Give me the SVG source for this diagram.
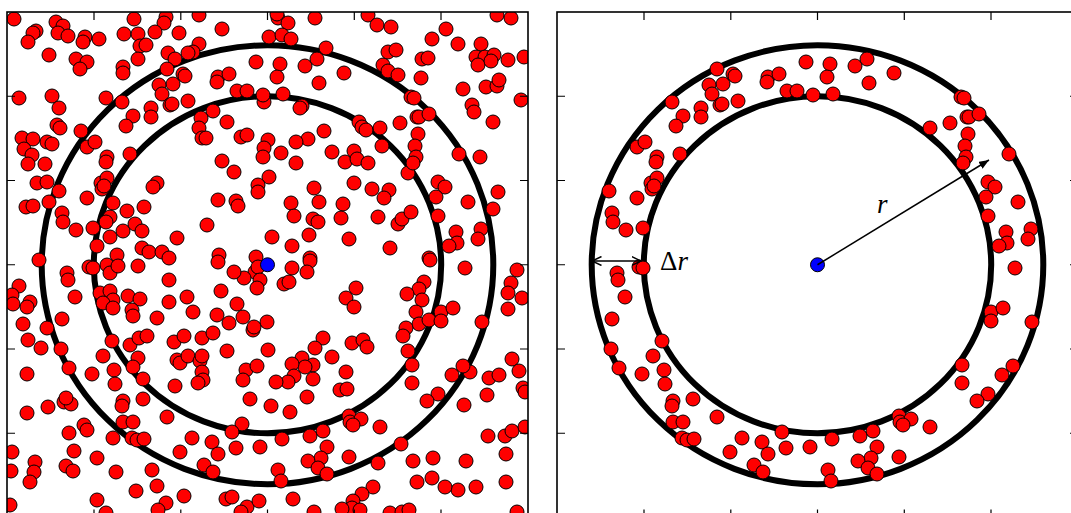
<svg xmlns="http://www.w3.org/2000/svg" xmlns:xlink="http://www.w3.org/1999/xlink" width="1071" height="513" viewBox="0 0 1071 513">
<style>
.bg{fill:#ffffff}
.frame{fill:none;stroke:#000;stroke-width:1.6}
.tick{fill:none;stroke:#000;stroke-width:1.2}
.ringline{fill:none;stroke:#000;stroke-width:6}
.pts circle{fill:#ff0000;stroke:#000;stroke-width:1}
.center{fill:#0000ff;stroke:#000;stroke-width:1}
.arr{fill:none;stroke:#000;stroke-width:1.5}
.lbl{font-family:"Liberation Serif","DejaVu Serif",serif;font-size:27px;fill:#000}
.it{font-style:italic}
</style>
<defs>
<clipPath id="clipL"><rect x="7" y="12" width="521" height="505.5"/></clipPath>
<clipPath id="clipR"><rect x="557" y="12" width="521" height="505.5"/></clipPath>
<marker id="head" viewBox="0 0 10 8" refX="10" refY="4" markerWidth="10" markerHeight="8" markerUnits="userSpaceOnUse" orient="auto">
<path d="M0,0 L10,4 L0,8 Z" fill="#000"/>
</marker>
<marker id="chev" viewBox="0 0 10 10" refX="9.5" refY="5" markerWidth="10" markerHeight="10" markerUnits="userSpaceOnUse" orient="auto-start-reverse">
<path d="M0,0.5 L9.5,5 L0,9.5" fill="none" stroke="#000" stroke-width="1.5"/>
</marker>
<g id="ringpts" class="pts">
<circle cx="256" cy="62" r="7"/><circle cx="218" cy="77" r="7"/><circle cx="217" cy="82" r="7"/><circle cx="229" cy="74" r="7"/><circle cx="237" cy="91" r="7"/><circle cx="247" cy="91" r="7"/><circle cx="263" cy="95" r="7"/><circle cx="167" cy="69" r="7"/><circle cx="183" cy="74" r="7"/><circle cx="185" cy="76" r="7"/><circle cx="173" cy="84" r="7"/><circle cx="159" cy="85" r="7"/><circle cx="162" cy="94" r="7"/><circle cx="170" cy="105" r="7"/><circle cx="172" cy="104" r="7"/><circle cx="188" cy="101" r="7"/><circle cx="151" cy="108" r="7"/><circle cx="151" cy="117" r="7"/><circle cx="133" cy="116" r="7"/><circle cx="126" cy="126" r="7"/><circle cx="122" cy="102" r="7"/><circle cx="87" cy="147" r="7"/><circle cx="95" cy="142" r="7"/><circle cx="107" cy="157" r="7"/><circle cx="106" cy="162" r="7"/><circle cx="130" cy="154" r="7"/><circle cx="101" cy="183" r="7"/><circle cx="107" cy="178" r="7"/><circle cx="102" cy="189" r="7"/><circle cx="104" cy="186" r="7"/><circle cx="59" cy="191" r="7"/><circle cx="87" cy="198" r="7"/><circle cx="62" cy="213" r="7"/><circle cx="63" cy="222" r="7"/><circle cx="76" cy="230" r="7"/><circle cx="93" cy="228" r="7"/>
<circle cx="280" cy="64" r="7"/><circle cx="277" cy="77" r="7"/><circle cx="305" cy="66" r="7"/><circle cx="317" cy="59" r="7"/><circle cx="319" cy="83" r="7"/><circle cx="344" cy="73" r="7"/><circle cx="283" cy="94" r="7"/><circle cx="411" cy="97" r="7"/><circle cx="414" cy="98" r="7"/><circle cx="417" cy="117" r="7"/><circle cx="419" cy="117" r="7"/><circle cx="429" cy="114" r="7"/><circle cx="400" cy="123" r="7"/><circle cx="380" cy="128" r="7"/><circle cx="418" cy="134" r="7"/><circle cx="415" cy="146" r="7"/><circle cx="416" cy="157" r="7"/><circle cx="413" cy="163" r="7"/><circle cx="459" cy="154" r="7"/><circle cx="438" cy="182" r="7"/><circle cx="445" cy="187" r="7"/><circle cx="436" cy="197" r="7"/><circle cx="468" cy="202" r="7"/><circle cx="438" cy="216" r="7"/><circle cx="456" cy="232" r="7"/><circle cx="457" cy="243" r="7"/><circle cx="449" cy="246" r="7"/><circle cx="481" cy="229" r="7"/><circle cx="478" cy="239" r="7"/>
<circle cx="67" cy="273" r="7"/><circle cx="68" cy="280" r="7"/><circle cx="89" cy="267" r="7"/><circle cx="93" cy="268" r="7"/><circle cx="75" cy="297" r="7"/><circle cx="62" cy="319" r="7"/><circle cx="112" cy="341" r="7"/><circle cx="61" cy="349" r="7"/><circle cx="69" cy="368" r="7"/><circle cx="103" cy="356" r="7"/><circle cx="114" cy="370" r="7"/><circle cx="92" cy="374" r="7"/><circle cx="115" cy="384" r="7"/><circle cx="123" cy="401" r="7"/><circle cx="122" cy="406" r="7"/><circle cx="143" cy="399" r="7"/><circle cx="167" cy="417" r="7"/><circle cx="123" cy="422" r="7"/><circle cx="133" cy="422" r="7"/><circle cx="132" cy="438" r="7"/><circle cx="137" cy="440" r="7"/><circle cx="144" cy="439" r="7"/><circle cx="192" cy="438" r="7"/><circle cx="180" cy="452" r="7"/><circle cx="212" cy="442" r="7"/><circle cx="218" cy="454" r="7"/><circle cx="232" cy="432" r="7"/><circle cx="236" cy="448" r="7"/><circle cx="260" cy="447" r="7"/><circle cx="204" cy="465" r="7"/><circle cx="213" cy="472" r="7"/>
<circle cx="465" cy="268" r="7"/><circle cx="441" cy="312" r="7"/><circle cx="453" cy="308" r="7"/><circle cx="441" cy="321" r="7"/><circle cx="482" cy="322" r="7"/><circle cx="412" cy="365" r="7"/><circle cx="412" cy="383" r="7"/><circle cx="463" cy="366" r="7"/><circle cx="452" cy="375" r="7"/><circle cx="438" cy="394" r="7"/><circle cx="427" cy="401" r="7"/><circle cx="349" cy="416" r="7"/><circle cx="350" cy="422" r="7"/><circle cx="361" cy="419" r="7"/><circle cx="353" cy="425" r="7"/><circle cx="380" cy="427" r="7"/><circle cx="323" cy="431" r="7"/><circle cx="310" cy="436" r="7"/><circle cx="282" cy="439" r="7"/><circle cx="327" cy="447" r="7"/><circle cx="321" cy="458" r="7"/><circle cx="308" cy="461" r="7"/><circle cx="318" cy="468" r="7"/><circle cx="327" cy="474" r="7"/><circle cx="349" cy="457" r="7"/><circle cx="278" cy="470" r="7"/><circle cx="281" cy="481" r="7"/>
</g>
</defs>
<rect class="bg" x="0" y="0" width="1071" height="513"/>

<g id="panel-left">
<g clip-path="url(#clipL)">
<g id="rings-left">
<ellipse class="ringline" cx="267.5" cy="264.75" rx="173.7" ry="168.5"/>
<ellipse class="ringline" cx="267.5" cy="264.75" rx="225.8" ry="219.5"/>
</g>
<g id="points-left" class="pts">
<circle cx="14" cy="19" r="7"/><circle cx="56" cy="22" r="7"/><circle cx="63" cy="26" r="7"/><circle cx="58" cy="33" r="7"/><circle cx="68" cy="36" r="7"/><circle cx="36" cy="31" r="7"/><circle cx="33" cy="33" r="7"/><circle cx="28" cy="42" r="7"/><circle cx="49" cy="55" r="7"/><circle cx="76" cy="59" r="7"/><circle cx="87" cy="62" r="7"/><circle cx="80" cy="69" r="7"/><circle cx="85" cy="37" r="7"/><circle cx="83" cy="42" r="7"/><circle cx="99" cy="39" r="7"/><circle cx="124" cy="34" r="7"/><circle cx="134" cy="19" r="7"/><circle cx="166" cy="17" r="7"/><circle cx="164" cy="23" r="7"/><circle cx="155" cy="32" r="7"/><circle cx="138" cy="34" r="7"/><circle cx="140" cy="46" r="7"/><circle cx="146" cy="45" r="7"/><circle cx="138" cy="59" r="7"/><circle cx="123" cy="67" r="7"/><circle cx="123" cy="73" r="7"/><circle cx="179" cy="33" r="7"/><circle cx="199" cy="15" r="7"/><circle cx="222" cy="29" r="7"/><circle cx="199" cy="44" r="7"/><circle cx="193" cy="52" r="7"/><circle cx="188" cy="53" r="7"/><circle cx="168" cy="53" r="7"/><circle cx="175" cy="59" r="7"/><circle cx="106" cy="98" r="7"/><circle cx="19" cy="98" r="7"/><circle cx="52" cy="96" r="7"/><circle cx="59" cy="108" r="7"/><circle cx="57" cy="125" r="7"/><circle cx="60" cy="128" r="7"/><circle cx="81" cy="131" r="7"/><circle cx="264" cy="102" r="7"/><circle cx="269" cy="37" r="7"/><circle cx="213" cy="111" r="7"/><circle cx="201" cy="118" r="7"/><circle cx="199" cy="128" r="7"/><circle cx="202" cy="138" r="7"/><circle cx="206" cy="138" r="7"/><circle cx="227" cy="122" r="7"/><circle cx="241" cy="137" r="7"/><circle cx="247" cy="135" r="7"/><circle cx="268" cy="140" r="7"/><circle cx="264" cy="148" r="7"/><circle cx="263" cy="157" r="7"/><circle cx="269" cy="177" r="7"/><circle cx="222" cy="161" r="7"/><circle cx="234" cy="172" r="7"/><circle cx="258" cy="185" r="7"/><circle cx="258" cy="192" r="7"/><circle cx="218" cy="200" r="7"/><circle cx="236" cy="201" r="7"/><circle cx="238" cy="206" r="7"/><circle cx="207" cy="225" r="7"/><circle cx="177" cy="238" r="7"/><circle cx="219" cy="255" r="7"/><circle cx="256" cy="257" r="7"/><circle cx="272" cy="237" r="7"/><circle cx="22" cy="138" r="7"/><circle cx="33" cy="139" r="7"/><circle cx="47" cy="142" r="7"/><circle cx="52" cy="144" r="7"/><circle cx="24" cy="149" r="7"/><circle cx="32" cy="155" r="7"/><circle cx="28" cy="164" r="7"/><circle cx="45" cy="164" r="7"/><circle cx="37" cy="183" r="7"/><circle cx="47" cy="182" r="7"/><circle cx="49" cy="202" r="7"/><circle cx="26" cy="207" r="7"/><circle cx="33" cy="206" r="7"/><circle cx="157" cy="183" r="7"/><circle cx="153" cy="187" r="7"/><circle cx="144" cy="207" r="7"/><circle cx="127" cy="211" r="7"/><circle cx="113" cy="203" r="7"/><circle cx="110" cy="217" r="7"/><circle cx="106" cy="222" r="7"/><circle cx="123" cy="231" r="7"/><circle cx="135" cy="224" r="7"/><circle cx="142" cy="231" r="7"/><circle cx="110" cy="237" r="7"/><circle cx="97" cy="246" r="7"/><circle cx="117" cy="255" r="7"/><circle cx="142" cy="248" r="7"/><circle cx="149" cy="252" r="7"/><circle cx="162" cy="252" r="7"/><circle cx="169" cy="258" r="7"/><circle cx="39" cy="260" r="7"/>
<circle cx="278" cy="18" r="7"/><circle cx="277" cy="14" r="7"/><circle cx="288" cy="23" r="7"/><circle cx="315" cy="18" r="7"/><circle cx="368" cy="15" r="7"/><circle cx="377" cy="25" r="7"/><circle cx="391" cy="27" r="7"/><circle cx="282" cy="35" r="7"/><circle cx="291" cy="39" r="7"/><circle cx="326" cy="48" r="7"/><circle cx="383" cy="65" r="7"/><circle cx="388" cy="52" r="7"/><circle cx="396" cy="50" r="7"/><circle cx="388" cy="71" r="7"/><circle cx="398" cy="75" r="7"/><circle cx="446" cy="29" r="7"/><circle cx="432" cy="39" r="7"/><circle cx="458" cy="44" r="7"/><circle cx="481" cy="44" r="7"/><circle cx="476" cy="57" r="7"/><circle cx="485" cy="57" r="7"/><circle cx="494" cy="55" r="7"/><circle cx="478" cy="65" r="7"/><circle cx="491" cy="61" r="7"/><circle cx="508" cy="60" r="7"/><circle cx="524" cy="57" r="7"/><circle cx="497" cy="15" r="7"/><circle cx="511" cy="18" r="7"/><circle cx="422" cy="59" r="7"/><circle cx="428" cy="58" r="7"/><circle cx="421" cy="78" r="7"/><circle cx="463" cy="89" r="7"/><circle cx="486" cy="87" r="7"/><circle cx="497" cy="86" r="7"/><circle cx="499" cy="80" r="7"/><circle cx="521" cy="100" r="7"/><circle cx="472" cy="105" r="7"/><circle cx="474" cy="112" r="7"/><circle cx="493" cy="122" r="7"/><circle cx="408" cy="173" r="7"/><circle cx="382" cy="146" r="7"/><circle cx="359" cy="122" r="7"/><circle cx="362" cy="127" r="7"/><circle cx="366" cy="130" r="7"/><circle cx="480" cy="157" r="7"/><circle cx="302" cy="106" r="7"/><circle cx="300" cy="108" r="7"/><circle cx="324" cy="131" r="7"/><circle cx="308" cy="139" r="7"/><circle cx="296" cy="142" r="7"/><circle cx="281" cy="153" r="7"/><circle cx="296" cy="163" r="7"/><circle cx="332" cy="152" r="7"/><circle cx="354" cy="151" r="7"/><circle cx="345" cy="162" r="7"/><circle cx="357" cy="159" r="7"/><circle cx="368" cy="163" r="7"/><circle cx="354" cy="183" r="7"/><circle cx="314" cy="188" r="7"/><circle cx="372" cy="189" r="7"/><circle cx="389" cy="190" r="7"/><circle cx="384" cy="198" r="7"/><circle cx="291" cy="203" r="7"/><circle cx="319" cy="202" r="7"/><circle cx="343" cy="204" r="7"/><circle cx="294" cy="216" r="7"/><circle cx="313" cy="219" r="7"/><circle cx="318" cy="222" r="7"/><circle cx="341" cy="218" r="7"/><circle cx="378" cy="217" r="7"/><circle cx="398" cy="224" r="7"/><circle cx="402" cy="219" r="7"/><circle cx="411" cy="212" r="7"/><circle cx="292" cy="246" r="7"/><circle cx="309" cy="235" r="7"/><circle cx="349" cy="239" r="7"/><circle cx="390" cy="248" r="7"/><circle cx="429" cy="258" r="7"/><circle cx="310" cy="258" r="7"/><circle cx="498" cy="192" r="7"/><circle cx="493" cy="209" r="7"/>
<circle cx="107" cy="265" r="7"/><circle cx="110" cy="273" r="7"/><circle cx="118" cy="266" r="7"/><circle cx="138" cy="266" r="7"/><circle cx="169" cy="280" r="7"/><circle cx="19" cy="286" r="7"/><circle cx="12" cy="295" r="7"/><circle cx="13" cy="304" r="7"/><circle cx="30" cy="302" r="7"/><circle cx="27" cy="307" r="7"/><circle cx="100" cy="293" r="7"/><circle cx="110" cy="291" r="7"/><circle cx="113" cy="300" r="7"/><circle cx="103" cy="303" r="7"/><circle cx="113" cy="308" r="7"/><circle cx="128" cy="296" r="7"/><circle cx="140" cy="299" r="7"/><circle cx="132" cy="310" r="7"/><circle cx="133" cy="316" r="7"/><circle cx="157" cy="318" r="7"/><circle cx="169" cy="302" r="7"/><circle cx="187" cy="297" r="7"/><circle cx="193" cy="312" r="7"/><circle cx="221" cy="291" r="7"/><circle cx="237" cy="304" r="7"/><circle cx="217" cy="315" r="7"/><circle cx="243" cy="317" r="7"/><circle cx="229" cy="323" r="7"/><circle cx="255" cy="272" r="7"/><circle cx="258" cy="267" r="7"/><circle cx="260" cy="280" r="7"/><circle cx="257" cy="288" r="7"/><circle cx="244" cy="278" r="7"/><circle cx="234" cy="272" r="7"/><circle cx="218" cy="262" r="7"/><circle cx="267" cy="322" r="7"/><circle cx="253" cy="330" r="7"/><circle cx="254" cy="327" r="7"/><circle cx="23" cy="324" r="7"/><circle cx="47" cy="328" r="7"/><circle cx="28" cy="340" r="7"/><circle cx="41" cy="348" r="7"/><circle cx="27" cy="374" r="7"/><circle cx="130" cy="345" r="7"/><circle cx="139" cy="338" r="7"/><circle cx="147" cy="336" r="7"/><circle cx="138" cy="358" r="7"/><circle cx="133" cy="367" r="7"/><circle cx="143" cy="379" r="7"/><circle cx="174" cy="342" r="7"/><circle cx="184" cy="336" r="7"/><circle cx="202" cy="338" r="7"/><circle cx="213" cy="333" r="7"/><circle cx="177" cy="360" r="7"/><circle cx="180" cy="363" r="7"/><circle cx="188" cy="356" r="7"/><circle cx="200" cy="361" r="7"/><circle cx="202" cy="356" r="7"/><circle cx="202" cy="372" r="7"/><circle cx="203" cy="380" r="7"/><circle cx="198" cy="383" r="7"/><circle cx="175" cy="386" r="7"/><circle cx="227" cy="351" r="7"/><circle cx="246" cy="370" r="7"/><circle cx="257" cy="366" r="7"/><circle cx="243" cy="380" r="7"/><circle cx="268" cy="350" r="7"/><circle cx="250" cy="399" r="7"/><circle cx="27" cy="413" r="7"/><circle cx="48" cy="407" r="7"/><circle cx="64" cy="402" r="7"/><circle cx="71" cy="404" r="7"/><circle cx="66" cy="398" r="7"/><circle cx="84" cy="425" r="7"/><circle cx="87" cy="430" r="7"/><circle cx="69" cy="433" r="7"/><circle cx="113" cy="438" r="7"/><circle cx="242" cy="424" r="7"/><circle cx="12" cy="452" r="7"/><circle cx="11" cy="471" r="7"/><circle cx="35" cy="462" r="7"/><circle cx="34" cy="472" r="7"/><circle cx="30" cy="482" r="7"/><circle cx="74" cy="451" r="7"/><circle cx="66" cy="466" r="7"/><circle cx="73" cy="471" r="7"/><circle cx="97" cy="458" r="7"/><circle cx="116" cy="472" r="7"/><circle cx="152" cy="470" r="7"/><circle cx="157" cy="486" r="7"/><circle cx="136" cy="491" r="7"/><circle cx="184" cy="496" r="7"/><circle cx="97" cy="500" r="7"/><circle cx="166" cy="503" r="7"/><circle cx="158" cy="510" r="7"/><circle cx="106" cy="513" r="7"/><circle cx="226" cy="499" r="7"/><circle cx="232" cy="497" r="7"/><circle cx="247" cy="507" r="7"/><circle cx="241" cy="512" r="7"/><circle cx="259" cy="501" r="7"/><circle cx="10" cy="505" r="7"/>
<circle cx="292" cy="268" r="7"/><circle cx="310" cy="261" r="7"/><circle cx="307" cy="272" r="7"/><circle cx="284" cy="284" r="7"/><circle cx="289" cy="282" r="7"/><circle cx="356" cy="288" r="7"/><circle cx="346" cy="298" r="7"/><circle cx="354" cy="307" r="7"/><circle cx="323" cy="338" r="7"/><circle cx="315" cy="348" r="7"/><circle cx="352" cy="343" r="7"/><circle cx="363" cy="340" r="7"/><circle cx="367" cy="347" r="7"/><circle cx="332" cy="357" r="7"/><circle cx="302" cy="358" r="7"/><circle cx="313" cy="365" r="7"/><circle cx="305" cy="367" r="7"/><circle cx="292" cy="364" r="7"/><circle cx="294" cy="376" r="7"/><circle cx="288" cy="382" r="7"/><circle cx="276" cy="382" r="7"/><circle cx="313" cy="379" r="7"/><circle cx="346" cy="372" r="7"/><circle cx="340" cy="390" r="7"/><circle cx="347" cy="389" r="7"/><circle cx="307" cy="397" r="7"/><circle cx="271" cy="406" r="7"/><circle cx="290" cy="412" r="7"/><circle cx="401" cy="444" r="7"/><circle cx="378" cy="463" r="7"/><circle cx="373" cy="487" r="7"/><circle cx="362" cy="494" r="7"/><circle cx="353" cy="501" r="7"/><circle cx="352" cy="508" r="7"/><circle cx="342" cy="509" r="7"/><circle cx="360" cy="510" r="7"/><circle cx="314" cy="512" r="7"/><circle cx="293" cy="499" r="7"/><circle cx="390" cy="513" r="7"/><circle cx="402" cy="512" r="7"/><circle cx="409" cy="510" r="7"/><circle cx="430" cy="260" r="7"/><circle cx="424" cy="282" r="7"/><circle cx="419" cy="289" r="7"/><circle cx="407" cy="294" r="7"/><circle cx="422" cy="300" r="7"/><circle cx="416" cy="312" r="7"/><circle cx="419" cy="324" r="7"/><circle cx="406" cy="328" r="7"/><circle cx="403" cy="336" r="7"/><circle cx="408" cy="351" r="7"/><circle cx="429" cy="320" r="7"/><circle cx="470" cy="372" r="7"/><circle cx="464" cy="405" r="7"/><circle cx="489" cy="378" r="7"/><circle cx="499" cy="375" r="7"/><circle cx="487" cy="395" r="7"/><circle cx="517" cy="270" r="7"/><circle cx="511" cy="283" r="7"/><circle cx="508" cy="293" r="7"/><circle cx="522" cy="298" r="7"/><circle cx="508" cy="309" r="7"/><circle cx="512" cy="359" r="7"/><circle cx="519" cy="371" r="7"/><circle cx="523" cy="388" r="7"/><circle cx="525" cy="392" r="7"/><circle cx="488" cy="436" r="7"/><circle cx="505" cy="436" r="7"/><circle cx="512" cy="431" r="7"/><circle cx="525" cy="427" r="7"/><circle cx="506" cy="454" r="7"/><circle cx="506" cy="482" r="7"/><circle cx="466" cy="461" r="7"/><circle cx="476" cy="487" r="7"/><circle cx="458" cy="490" r="7"/><circle cx="445" cy="487" r="7"/><circle cx="432" cy="478" r="7"/><circle cx="417" cy="482" r="7"/><circle cx="433" cy="458" r="7"/><circle cx="413" cy="461" r="7"/><circle cx="517" cy="512" r="7"/>
</g>
<use xlink:href="#ringpts" href="#ringpts"/>
<circle id="center-left" class="center" cx="267.5" cy="264.75" r="7"/>
</g>
<rect class="frame" x="7" y="12" width="521" height="505.5"/>
<path class="tick" d="M94,12v8M180.8,12v8M267.5,12v8M354.3,12v8M441,12v8M94,517.5v-8M180.8,517.5v-8M267.5,517.5v-8M354.3,517.5v-8M441,517.5v-8M7,96.25h8M7,180.5h8M7,264.75h8M7,349h8M7,433.25h8M528,96.25h-8M528,180.5h-8M528,264.75h-8M528,349h-8M528,433.25h-8"/>
</g>

<g id="panel-right">
<g clip-path="url(#clipR)">
<g id="rings-right">
<ellipse class="ringline" cx="817.5" cy="264.75" rx="173.7" ry="168.5"/>
<ellipse class="ringline" cx="817.5" cy="264.75" rx="225.8" ry="219.5"/>
</g>
<use xlink:href="#ringpts" href="#ringpts" transform="translate(550,0)"/>
<circle id="center-right" class="center" cx="817.5" cy="264.75" r="7"/>
</g>
<rect class="frame" x="557" y="12" width="521" height="505.5"/>
<path class="tick" d="M644,12v8M730.8,12v8M817.5,12v8M904.3,12v8M991,12v8M644,517.5v-8M730.8,517.5v-8M817.5,517.5v-8M904.3,517.5v-8M991,517.5v-8M557,96.25h8M557,180.5h8M557,264.75h8M557,349h8M557,433.25h8M1078,96.25h-8M1078,180.5h-8M1078,264.75h-8M1078,349h-8M1078,433.25h-8"/>
</g>

<g id="connectors">
<line id="arrow-r" class="arr" x1="817.5" y1="264.75" x2="989" y2="160" marker-end="url(#head)"/>
<line id="arrow-dr" class="arr" x1="592" y1="261" x2="641" y2="261" marker-start="url(#chev)" marker-end="url(#chev)"/>
</g>

<g id="labels">
<text class="lbl it" x="877" y="213">r</text>
<text class="lbl" x="660" y="270">Δ<tspan class="it">r</tspan></text>
</g>
</svg>
